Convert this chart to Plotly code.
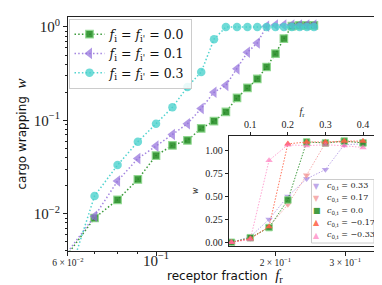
import plotly.graph_objects as go

# ---------------- data ----------------
fr_main = [0.05, 0.07, 0.08, 0.09, 0.10, 0.11, 0.12, 0.13, 0.14, 0.15, 0.16,
           0.17, 0.18, 0.19, 0.20, 0.21, 0.22, 0.23, 0.24, 0.25]
w_f00 = [0.0013, 0.0090, 0.0141, 0.0233, 0.042, 0.054, 0.061, 0.082, 0.098, 0.123,
         0.174, 0.223, 0.278, 0.373, 0.518, 0.75, 1.02, 1.04, 1.04, 1.04]
w_f01 = [0.0014, 0.0094, 0.0224, 0.039, 0.053, 0.0705, 0.092, 0.134, 0.200, 0.237,
         0.356, 0.536, 0.674, 1.02, 1.05, 1.05, 1.05, 1.05, 1.05, 1.05]
w_f03 = [0.00018, 0.0155, 0.0332, 0.059, 0.092, 0.138, 0.228, 0.33, 0.74, 1.0,
         1.0, 1.0, 1.0, 1.0, 1.0, 1.0, 1.0, 1.0, 1.0, 1.0]
main_labels = ["0.0", "0.1", "0.3"]

fr_inset = [0.05, 0.10, 0.15, 0.20, 0.25, 0.30, 0.35, 0.40]
w_c033 = [0.0, 0.06, 0.25, 0.50, 0.69, 0.79, 1.06, 1.07]
w_c017 = [0.0, 0.04, 0.17, 0.41, 0.73, 1.08, 1.09, 1.09]
w_c000 = [0.0, 0.05, 0.16, 0.46, 1.09, 1.08, 1.10, 1.08]
w_cm017 = [0.0, 0.04, 0.17, 1.07, 1.09, 1.09, 1.10, 1.10]
w_cm033 = [0.0, 0.03, 0.89, 1.06, 1.05, 1.06, 1.05, 1.03]
inset_labels = ["0.33", "0.17", "0.0", "−0.17", "−0.33"]

main_xticks = [0.06, 0.1, 0.2, 0.3]
main_yticks = [0.01, 0.1, 1.0]
inset_xticks = [0.1, 0.2, 0.3, 0.4]
inset_yticks = [0.0, 0.25, 0.5, 0.75, 1.0]

# ---------------- geometry helpers ----------------
W, H = 382, 285
PL, PR, PT, PB = 60, 373, 9, 243


def px(x):
    return (x - PL) / (PR - PL)


def py(y):
    return (PB - y) / (PB - PT)


SERIF = "Liberation Serif"
MSERIF = "DejaVu Serif"

fig = go.Figure()

# main series
main_styles = [
    dict(color="rgba(34,139,34,0.88)", line=dict(color="rgba(140,215,140,0.9)", width=1.2),
         symbol="square", size=7.5, lc="rgba(50,150,50,0.95)"),
    dict(color="rgba(147,112,219,0.72)", line=dict(width=0), symbol="triangle-left",
         size=10, lc="rgba(147,112,219,0.85)"),
    dict(color="rgba(72,209,204,0.78)", line=dict(width=0), symbol="circle",
         size=8.5, lc="rgba(72,209,204,0.95)"),
]
for ys, lab, st in zip([w_f00, w_f01, w_f03], main_labels, main_styles):
    fig.add_trace(go.Scatter(
        x=fr_main, y=ys, mode="lines+markers",
        name="<i>f</i><sub>i</sub> = <i>f</i><sub>i'</sub> = " + lab,
        line=dict(color=st["lc"], width=1.5, dash="1.5px,2.2px"),
        marker=dict(color=st["color"], symbol=st["symbol"], size=st["size"], line=st["line"]),
        xaxis="x", yaxis="y", legend="legend",
    ))

# inset series
inset_styles = [
    ("rgba(147,112,219,0.6)", "triangle-down", None, "▼"),
    ("rgba(240,128,128,0.65)", "triangle-down", None, "▼"),
    ("rgba(34,139,34,0.85)", "square", "rgba(140,215,140,0.9)", "■"),
    ("rgba(255,99,71,0.9)", "triangle-up", None, "▲"),
    ("rgba(255,105,180,0.6)", "triangle-up", None, "▲"),
]
for ys, lab, (col, sym, edge, glyph) in zip([w_c033, w_c017, w_c000, w_cm017, w_cm033],
                                            inset_labels, inset_styles):
    fig.add_trace(go.Scatter(
        x=fr_inset, y=ys, mode="lines+markers",
        name="c0,i = " + lab, showlegend=False,
        line=dict(color=col, width=1, dash="1.5px,1.5px"),
        marker=dict(color=col, symbol=sym, size=6.5,
                    line=dict(color=edge or col, width=1 if edge else 0)),
        xaxis="x2", yaxis="y2",
    ))

small = "<span style='font-size:9.5px'>{}</span>"
xticktext = [small.format("6 × 10<sup>−2</sup>"),
             "<span style='font-size:15px'>10<sup>−1</sup></span>",
             small.format("2 × 10<sup>−1</sup>"), small.format("3 × 10<sup>−1</sup>")]
yticktext = ["10<sup>−2</sup>", "10<sup>−1</sup>", "10<sup>0</sup>"]

yminor = [k * 10 ** e for e in (-3, -2, -1) for k in range(2, 10)]
xminor = [0.07, 0.08, 0.09]

axis_common = dict(showline=True, linecolor="#222", linewidth=1, mirror=True,
                   showgrid=False, zeroline=False, ticks="outside", tickcolor="#222")

fig.update_layout(
    width=W, height=H,
    margin=dict(l=PL, r=W - PR, t=PT, b=H - PB),
    paper_bgcolor="white", plot_bgcolor="white",
    xaxis=dict(type="log", range=[-1.2218, -0.4330], domain=[0, 1],
               tickmode="array", tickvals=main_xticks, ticktext=xticktext,
               ticklen=4, tickwidth=1,
               tickfont=dict(family=SERIF, size=8, color="#222"),
               minor=dict(tickmode="array", tickvals=xminor, ticklen=2, ticks="outside",
                          tickcolor="#222"),
               **axis_common),
    yaxis=dict(type="log", range=[-2.399, 0.107], domain=[0, 1],
               tickmode="array", tickvals=main_yticks, ticktext=yticktext,
               ticklen=4, tickwidth=1,
               tickfont=dict(family=SERIF, size=15, color="#222"),
               minor=dict(tickmode="array", tickvals=yminor, ticklen=2, ticks="outside",
                          tickcolor="#222"),
               title=dict(text="cargo wrapping  <span style='font-family:Liberation Serif;font-size:15px'><i>w</i></span>",
                          font=dict(family="DejaVu Sans", size=12, color="#111"), standoff=4),
               **axis_common),
    xaxis2=dict(anchor="y2", side="top", domain=[px(220.7), px(367.3)],
                range=[0.0426, 0.4327], tickmode="array", tickvals=inset_xticks,
                ticktext=["0.1", "0.2", "0.3", "0.4"], ticklen=3,
                tickfont=dict(family=SERIF, size=10, color="#222"),
                title=dict(text="<i>f</i><sub>r</sub>", font=dict(family=SERIF, size=10, color="#222"),
                           standoff=1),
                **axis_common),
    yaxis2=dict(anchor="x2", domain=[py(237.7), py(128.3)],
                range=[-0.037, 1.152], tickmode="array", tickvals=inset_yticks,
                ticktext=["0.00", "0.25", "0.50", "0.75", "1.00"], ticklen=3,
                tickfont=dict(family=SERIF, size=10, color="#222"),
                title=dict(text="<i>w</i>", font=dict(family=SERIF, size=10, color="#222"),
                           standoff=4),
                **axis_common),
    legend=dict(x=px(60.5), y=py(10.5), xanchor="left", yanchor="top",
                bgcolor="rgba(255,255,255,0.85)", bordercolor="#cccccc", borderwidth=1,
                font=dict(family=MSERIF, size=12.5, color="#111"), tracegroupgap=0),
    showlegend=True,
)

# x-axis title
fig.add_annotation(x=0.5, y=py(267.5), xref="paper", yref="paper", showarrow=False,
                   xanchor="center", yanchor="middle",
                   text="receptor fraction  <span style='font-family:Liberation Serif;font-size:15px'><i>f</i><sub>r</sub></span>",
                   font=dict(family="DejaVu Sans", size=12, color="#111"))

# inset legend (text + glyphs)
lx0, lx1, ly0, ly1 = 303.5, 366, 171.5, 235
fig.add_shape(type="rect", xref="paper", yref="paper",
              x0=px(lx0), x1=px(lx1), y0=py(ly1), y1=py(ly0),
              fillcolor="rgba(255,255,255,0.85)", line=dict(color="#cccccc", width=1), layer="above")
row0, dy = 178.2, 12.2
for i, (lab, (col, sym, edge, glyph)) in enumerate(zip(inset_labels, inset_styles)):
    yy = py(row0 + i * dy)
    fig.add_annotation(x=px(308.5), y=yy, xref="paper", yref="paper", showarrow=False,
                       text=glyph, font=dict(family="DejaVu Sans", size=8, color=col),
                       xanchor="center", yanchor="middle")
    fig.add_annotation(x=px(316.5), y=yy, xref="paper", yref="paper", showarrow=False,
                       text="<i>c</i><sub>0,i</sub> = " + lab,
                       font=dict(family=MSERIF, size=8, color="#222"),
                       xanchor="left", yanchor="middle")

fig.write_html("out.html")
